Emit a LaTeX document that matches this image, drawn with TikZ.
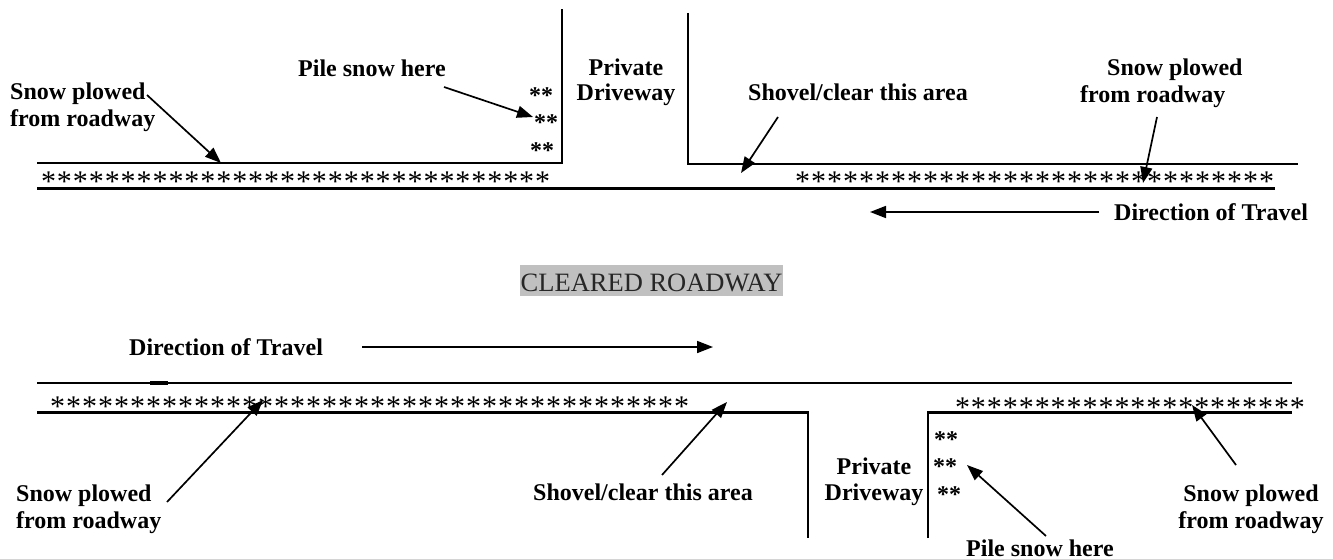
\documentclass[tikz,border=0pt]{standalone}
\usepackage{fontspec}
\setmainfont{Liberation Serif}
\usetikzlibrary{arrows.meta}
\definecolor{hlgray}{RGB}{192,192,192}
\tikzset{
  lbl/.style={font=\bfseries\fontsize{24}{27}\selectfont, inner sep=0pt},
  snowstar/.style={font=\fontsize{30}{30}\selectfont, inner sep=0pt, anchor=base},
  pile/.style={font=\bfseries\fontsize{24}{24}\selectfont, inner sep=0pt, anchor=base},
  road/.style={line width=2.2pt, line join=miter},
  ptr/.style={line width=1.7pt, -{Triangle[length=16pt,width=12pt]}},
}
% a row of plowed-snow asterisks: name, first centre x, baseline y, count, pitch
\newcommand{\snowrow}[5]{%
  \foreach \k in {1,...,#4}{%
    \node[snowstar] (#1-\k) at ({#2+(\k-1)*#5}, #3) {*};
  }%
}
\begin{document}
\begin{tikzpicture}[x=1pt, y=-1pt]
\useasboundingbox (0,0) rectangle (1333,559);

% ---------- upper roadway ----------
\draw[road] (37,163) -- (562,163) -- (562,9);
\draw[road] (688,13) -- (688,164) -- (1298,164);
\draw[road] (37,188.5) -- (1275,188.5);
\snowrow{tl}{48.5}{191}{32}{15.94}
\snowrow{tr}{802.5}{191}{30}{16.0}

\node[pile] (tp1) at (541,103.5) {**};
\node[pile] (tp2) at (546,130.5) {**};
\node[pile] (tp3) at (542,158.5) {**};

% multi-line labels are placed by the baseline of their last line
\node[lbl, anchor=base, align=center] (tdrive) at (626,101) {Private\\[-2pt]Driveway};
\node[lbl, anchor=base west] (tpile) at (298,77) {Pile snow here};
\node[lbl, anchor=base west, align=left] (tsnowl) at (10,127) {Snow plowed\\from roadway};
\node[lbl, anchor=base west] (tshovel) at (748,101) {Shovel/clear this area};
\node[lbl, anchor=base west, align=left] (tsnowr) at (1080,103) {\hspace*{27pt}Snow plowed\\from roadway};
\node[lbl, anchor=base west] (tdir) at (1114,220) {Direction of Travel};

\coordinate (a1s) at (147,95);   \coordinate (a1e) at (221,163);
\coordinate (a2s) at (444,87);   \coordinate (a2e) at (533,117);
\coordinate (a3s) at (778,117);  \coordinate (a3e) at (741,173);
\coordinate (a4s) at (1157,117); \coordinate (a4e) at (1143,183);
\coordinate (a5s) at (1099,212); \coordinate (a5e) at (870,212);
\draw[ptr] (a1s) -- (a1e);
\draw[ptr] (a2s) -- (a2e);
\draw[ptr] (a3s) -- (a3e);
\draw[ptr] (a4s) -- (a4e);
\draw[ptr] (a5s) -- (a5e);

% ---------- centre caption ----------
\node[anchor=base west, fill=hlgray, text=black!85, inner xsep=0.5pt, inner ysep=0pt,
      text height=26pt, text depth=5pt, font=\fontsize{26.5}{26.5}\selectfont]
  (cleared) at (520,291) {CLEARED ROADWAY};

% ---------- lower roadway ----------
\draw[road] (37,383) -- (1292,383);
\draw[line width=3.6pt] (150,383) -- (168,383);
\draw[road] (37,412.5) -- (808,412.5) -- (808,538);
\draw[road] (928,538) -- (928,412.5) -- (1292,412.5);
\snowrow{bl}{57.5}{416}{40}{16.0}
\snowrow{br}{962.5}{417}{22}{15.95}

\node[pile] (bp1) at (946,447.5) {**};
\node[pile] (bp2) at (945,474.5) {**};
\node[pile] (bp3) at (949,502.5) {**};

\node[lbl, anchor=base west] (bdir) at (129,355) {Direction of Travel};
\node[lbl, anchor=base west, align=left] (bsnowl) at (16,528) {Snow plowed\\from roadway};
\node[lbl, anchor=base west] (bshovel) at (533,500) {Shovel/clear this area};
\node[lbl, anchor=base, align=center] (bdrive) at (874,500) {Private\\[-1pt]Driveway};
\node[lbl, anchor=base west] (bpile) at (966,556) {Pile snow here};
\node[lbl, anchor=base, align=center] (bsnowr) at (1251,528) {Snow plowed\\from roadway};

\coordinate (b1s) at (362,347);  \coordinate (b1e) at (713,347);
\coordinate (b2s) at (167,502);  \coordinate (b2e) at (263,400);
\coordinate (b3s) at (662,475);  \coordinate (b3e) at (727,402);
\coordinate (b4s) at (1046,536); \coordinate (b4e) at (967,465);
\coordinate (b5s) at (1236,465); \coordinate (b5e) at (1192,405);
\draw[ptr] (b1s) -- (b1e);
\draw[ptr] (b2s) -- (b2e);
\draw[ptr] (b3s) -- (b3e);
\draw[ptr] (b4s) -- (b4e);
\draw[ptr] (b5s) -- (b5e);
\end{tikzpicture}
\end{document}
